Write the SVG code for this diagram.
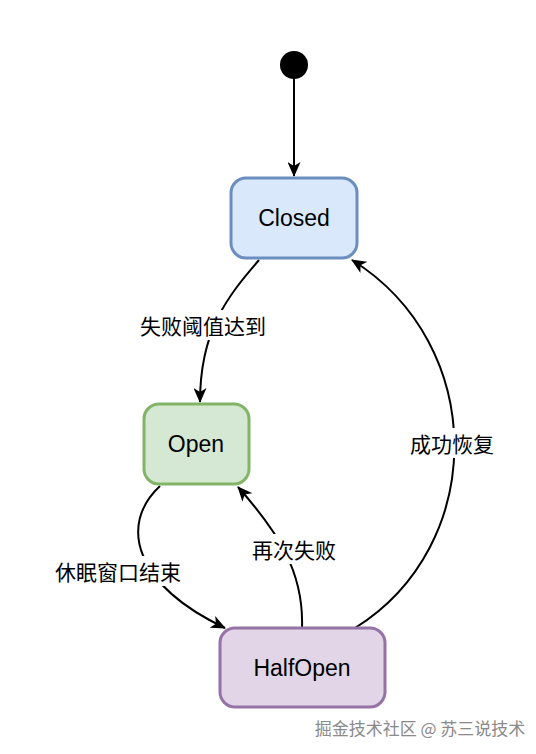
<svg xmlns="http://www.w3.org/2000/svg" width="536" height="754" viewBox="0 0 536 754">
<defs>
<marker id="arr" viewBox="0 0 15 13" refX="14" refY="6.5" markerWidth="15" markerHeight="13" markerUnits="userSpaceOnUse" orient="auto">
<path d="M0,0 L15,6.5 L0,13 L4,6.5 Z" fill="#000"/>
</marker>
</defs>
<style>
.node{stroke-width:3}
.lbl{font-family:"Liberation Sans","Noto Sans CJK SC",sans-serif;font-size:23px;fill:#000;text-anchor:middle;dominant-baseline:central}
.el{font-family:"Noto Sans CJK SC","Liberation Sans",sans-serif;font-size:21px;fill:#000;text-anchor:middle;dominant-baseline:central}
.edge{fill:none;stroke:#000;stroke-width:2;marker-end:url(#arr)}
</style>
<rect width="536" height="754" fill="#fff"/>
<g id="connectors">
<path class="edge" d="M294,79 L294,176"/>
<path class="edge" d="M259,260 C228,296 200,330 200,402"/>
<path class="edge" d="M160,486 C118,525 135,585 225,628"/>
<path class="edge" d="M302,628 C304,572 278,532 238,487"/>
<path class="edge" d="M355,628 C488,545 488,345 352,260"/>
<rect x="136" y="310" width="135" height="30" fill="#fff"/>
<text class="el" x="203" y="325">失败阈值达到</text>
<rect x="50" y="556" width="136" height="30" fill="#fff"/>
<text class="el" x="118" y="571">休眠窗口结束</text>
<rect x="249" y="534" width="90" height="30" fill="#fff"/>
<text class="el" x="294" y="549">再次失败</text>
<rect x="407" y="428" width="90" height="30" fill="#fff"/>
<text class="el" x="452" y="443">成功恢复</text>
</g>
<g id="start"><circle cx="294" cy="65" r="14" fill="#000"/></g>
<g id="closed"><rect class="node" x="231" y="178" width="126" height="80" rx="15" fill="#dae8fc" stroke="#6c8ebf"/><text class="lbl" x="294" y="218">Closed</text></g>
<g id="open"><rect class="node" x="144" y="404" width="105" height="80" rx="15" fill="#d5e8d4" stroke="#82b366"/><text class="lbl" x="196" y="444">Open</text></g>
<g id="halfopen"><rect class="node" x="220" y="628" width="165" height="79" rx="15" fill="#e1d5e7" stroke="#9673a6"/><text class="lbl" x="302" y="668">HalfOpen</text></g>
<text x="420" y="727" font-family="Noto Sans CJK SC,Liberation Sans,sans-serif" font-size="17" fill="#8a8a8a" text-anchor="middle" dominant-baseline="central">掘金技术社区 @ 苏三说技术</text>
</svg>
